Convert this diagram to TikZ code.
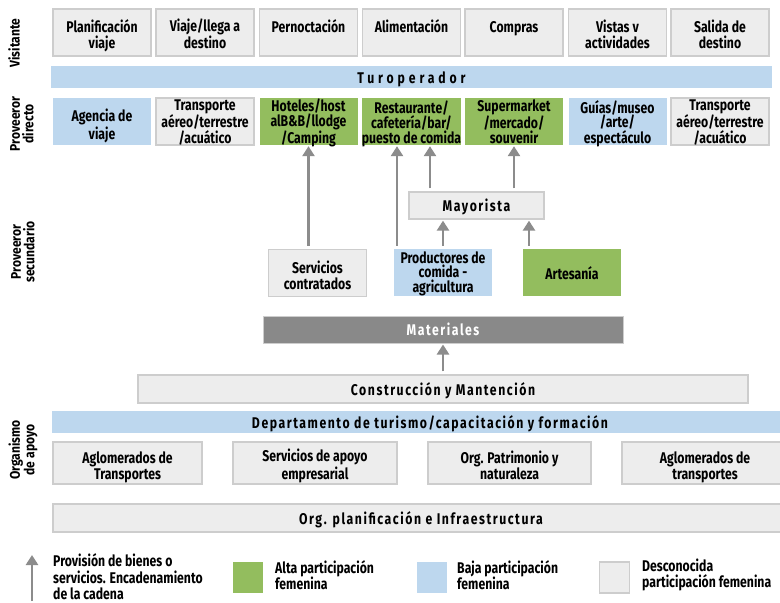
\documentclass[tikz,border=0pt]{standalone}
\usepackage{fontspec}
\setmainfont[FakeStretch=0.79]{Fira Sans}
\newfontfamily\sidefont[FakeStretch=0.86]{Fira Sans}
\usetikzlibrary{arrows.meta,calc}

\definecolor{altag}{HTML}{93BD5E}
\definecolor{bajab}{HTML}{BDD7EE}
\definecolor{unkfill}{HTML}{EDEDED}
\definecolor{unkline}{HTML}{CDCDCD}
\definecolor{matgray}{HTML}{898989}
\definecolor{arrgray}{HTML}{8C8C8C}

% multi-line cells: the box baseline is the last line, so text height/depth
% fix where the block of lines sits inside the cell
\tikzset{
  cell/.style={minimum width=98pt, minimum height=47pt, inner sep=0pt, align=center,
    font=\fontsize{15.5}{16}\selectfont\bfseries, text=black,
    text height=32pt, text depth=0pt},
  tri/.style={font=\fontsize{15.5}{14.6}\selectfont\bfseries,
    text height=44pt, text depth=0pt},
  unk/.style={cell, fill=unkfill, draw=unkline, line width=1.3pt},
  high/.style={cell, fill=altag},
  low/.style={cell, fill=bajab},
  band/.style={inner sep=0pt, align=center, text height=16.5pt, text depth=4pt,
    font=\fontsize{15.5}{16}\selectfont\bfseries\addfontfeature{LetterSpace=10}},
  side/.style={rotate=90, align=center, font=\sidefont\fontsize{14}{13.5}\selectfont\bfseries},
  arr/.style={draw=arrgray, line width=2.6pt, -{Triangle[length=10pt,width=12pt]},
    shorten <=3pt, shorten >=1pt},
  legtext/.style={anchor=west, align=left, inner sep=0pt,
    font=\fontsize{15.5}{16.5}\selectfont\bfseries},
  swatch/.style={minimum width=30pt, minimum height=31pt, inner sep=0pt}
}

\begin{document}
\begin{tikzpicture}[x=1pt,y=-1pt]
\useasboundingbox[fill=white] (0,0) rectangle (780,603);

% side labels
\node[side] (lv) at (14,43) {Visitante};
\node[side] (ld) at (22,124) {Proveeror\\directo};
\node[side] (ls) at (23,252) {Proveeror\\secundario};
\node[side] (lo) at (23,450) {Organismo\\de apoyo};

% visitor stages
\node[unk] (v1) at (102,32.5) {Planificación\\viaje};
\node[unk] (v2) at (205,32.5) {Viaje/llega a\\destino};
\node[unk] (v3) at (308.5,32.5) {Pernoctación\\\mbox{}};
\node[unk] (v4) at (411.5,32.5) {Alimentación\\\mbox{}};
\node[unk] (v5) at (514,32.5) {Compras\\\mbox{}};
\node[unk] (v6) at (617.5,32.5) {Vistas v\\actividades};
\node[unk] (v7) at (720,32.5) {Salida de\\destino};

% tour operator band
\node[band, fill=bajab, minimum width=721pt, minimum height=22pt,
  font=\fontsize{15.5}{16}\selectfont\bfseries\addfontfeature{LetterSpace=25}] (tour) at (411.5,77) {Turoperador};

% direct providers
\node[low, text height=35pt]  (d1) at (102,121.5) {Agencia de\\viaje};
\node[unk, tri]  (d2) at (205,121.5) {Transporte\\aéreo/terrestre\\/acuático};
\node[high, tri] (hot) at (308.5,121.5) {Hoteles/host\\alB\&B/llodge\\/Camping};
\node[high, tri] (rest) at (411.5,121.5) {Restaurante/\\cafetería/bar/\\puesto de comida};
\node[high, tri] (sup) at (514,121.5) {Supermarket\\/mercado/\\souvenir};
\node[low, tri]  (d6) at (617.5,121.5) {Guías/museo\\/arte/\\espectáculo};
\node[unk, tri]  (d7) at (720,121.5) {Transporte\\aéreo/terrestre\\/acuático};

% secondary providers
\node[unk, minimum width=135pt, minimum height=27pt, band] (may) at (476.5,205.5) {Mayorista};
\node[unk, text height=32pt] (sc) at (317.5,273) {Servicios\\contratados};
\node[low, tri, text height=40pt] (prod) at (443,272.5) {Productores de\\comida -\\agricultura};
\node[high, text height=13pt] (art) at (572,272.5) {Artesanía};
\node[band, fill=matgray, draw=unkline, line width=1pt, text=white,
  minimum width=360pt, minimum height=27pt] (mat) at (443,329.5) {Materiales};
\node[band, fill=unkfill, draw=unkline, line width=1.3pt,
  minimum width=610pt, minimum height=28pt] (con) at (443,389) {Construcción y Mantención};

% support organisations
\node[band, fill=bajab, minimum width=756pt, minimum height=22pt] (dep) at (430,422) {Departamento de turismo/capacitación y formación};
\node[unk, minimum width=149pt, minimum height=42pt, text height=32pt] (o1) at (127.5,463) {Aglomerados de\\Transportes};
\node[unk, minimum width=164pt, minimum height=42pt, text height=32pt] (o2) at (315,463) {Servicios de apoyo\\empresarial};
\node[unk, minimum width=163pt, minimum height=42pt, text height=32pt] (o3) at (509.5,463) {Org. Patrimonio y\\naturaleza};
\node[unk, minimum width=166pt, minimum height=42pt, text height=32pt] (o4) at (705,463) {Aglomerados de\\transportes};
\node[band, fill=unkfill, draw=unkline, line width=1.3pt,
  minimum width=736pt, minimum height=28pt] (plan) at (421,518) {Org. planificación e Infraestructura};

% supply chain arrows
\draw[arr] (sc.north -| hot.south) -- (hot.south);
\coordinate (pa) at ([xshift=-46pt]prod.north);
\draw[arr] (pa) -- (pa |- rest.south);
\coordinate (ma) at ([xshift=-46.5pt]may.north);
\draw[arr] (ma) -- (ma |- rest.south);
\draw[arr] (may.north -| sup.south) -- (sup.south);
\draw[arr] (prod.north) -- (prod.north |- may.south);
\coordinate (aa) at ([xshift=-43pt]art.north);
\draw[arr] (aa) -- (aa |- may.south);
\draw[arr] (con.north) -- (mat.south);

% legend
\coordinate (lgA) at (32,601);
\coordinate (lgB) at (32,554);
\draw[arr, shorten <=0pt] (lgA) -- (lgB);
\node[legtext] (lt1) at (53,577) {Provisión de bienes o\\servicios. Encadenamiento\\de la cadena};
\node[swatch, fill=altag] (sw1) at (248,577.5) {};
\node[legtext] (lt2) at (275,575) {Alta participación\\femenina};
\node[swatch, fill=bajab] (sw2) at (432,577.5) {};
\node[legtext] (lt3) at (457,575) {Baja participación\\femenina};
\node[swatch, fill=unkfill, draw=unkline, line width=1.2pt] (sw3) at (614.5,577.5) {};
\node[legtext] (lt4) at (642,575) {Desconocida\\participación femenina};
\end{tikzpicture}
\end{document}
